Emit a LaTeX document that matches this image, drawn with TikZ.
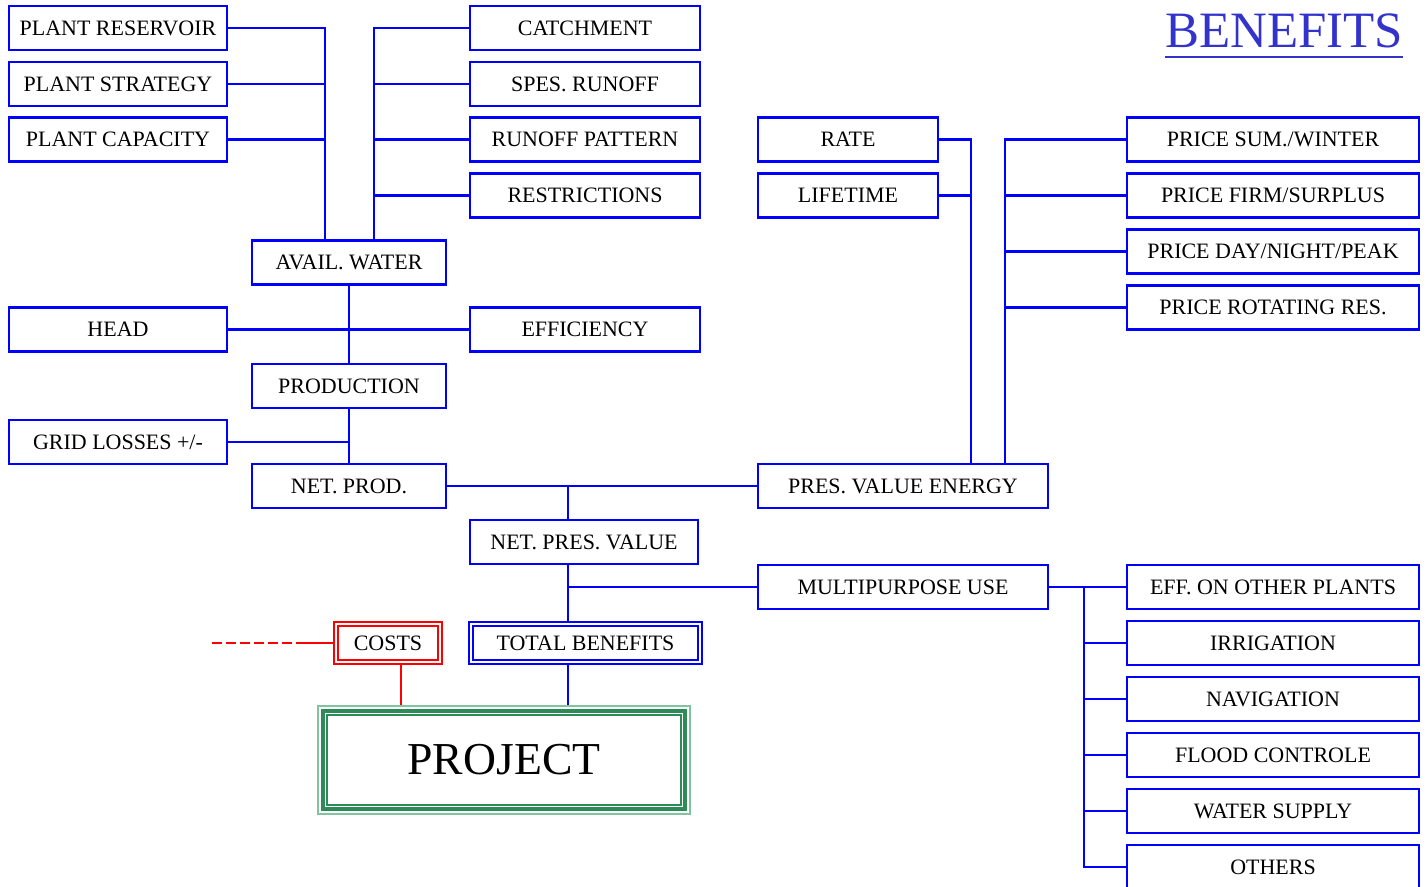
\documentclass[tikz,border=0pt]{standalone}
\usepackage{fontspec}
\setmainfont{Liberation Serif}
\definecolor{boxblue}{RGB}{0,0,255}
\definecolor{titleblue}{RGB}{51,51,204}
\definecolor{projgreen}{RGB}{46,139,87}
\definecolor{projlight}{RGB}{130,195,160}
\tikzset{
	box/.style={draw=boxblue, fill=white, line width=1.2pt, minimum width=#1, minimum height=0.88cm, inner sep=0pt, font=\fontsize{12.5}{14}\selectfont},
	dblbox/.style={draw=#1, fill=white, line width=1.1pt, double=white, double distance=1.2pt, outer sep=1.7pt, minimum height=0.76cm, inner sep=0pt, font=\fontsize{12.5}{14}\selectfont},
	projbox/.style={draw=projgreen, fill=white, line width=0.08cm, minimum width=7.24cm, minimum height=1.96cm, outer sep=0.115cm, font=\fontsize{26}{30}\selectfont},
	link/.style={draw=boxblue, line width=1.2pt},
	costlink/.style={draw=red, line width=1.2pt}
}
\begin{document}
\begin{tikzpicture}
	\useasboundingbox (0,0) rectangle (28.56,-17.72);

	\node[box=4.36cm] (res) at (2.36,-0.56) {PLANT RESERVOIR};
	\node[box=4.36cm] (strat) at (2.36,-1.68) {PLANT STRATEGY};
	\node[box=4.36cm] (cap) at (2.36,-2.79) {PLANT CAPACITY};
	\node[box=4.36cm] (head) at (2.36,-6.59) {HEAD};
	\node[box=4.36cm] (grid) at (2.36,-8.84) {GRID LOSSES +/-};

	\node[box=4.6cm] (catch) at (11.70,-0.56) {CATCHMENT};
	\node[box=4.6cm] (spes) at (11.70,-1.68) {SPES. RUNOFF};
	\node[box=4.6cm] (patt) at (11.70,-2.79) {RUNOFF PATTERN};
	\node[box=4.6cm] (restr) at (11.70,-3.91) {RESTRICTIONS};
	\node[box=4.6cm] (eff) at (11.70,-6.59) {EFFICIENCY};
	\node[box=4.56cm] (npv) at (11.68,-10.84) {NET. PRES. VALUE};

	\node[box=3.88cm] (avail) at (6.98,-5.25) {AVAIL. WATER};
	\node[box=3.88cm] (prod) at (6.98,-7.72) {PRODUCTION};
	\node[box=3.88cm] (net) at (6.98,-9.72) {NET. PROD.};

	\node[box=3.6cm] (rate) at (16.96,-2.79) {RATE};
	\node[box=3.6cm] (life) at (16.96,-3.91) {LIFETIME};
	\node[box=5.8cm] (pve) at (18.06,-9.72) {PRES. VALUE ENERGY};
	\node[box=5.8cm] (mpu) at (18.06,-11.74) {MULTIPURPOSE USE};

	\node[box=5.84cm] (psum) at (25.46,-2.79) {PRICE SUM./WINTER};
	\node[box=5.84cm] (pfirm) at (25.46,-3.91) {PRICE FIRM/SURPLUS};
	\node[box=5.84cm] (pday) at (25.46,-5.03) {PRICE DAY/NIGHT/PEAK};
	\node[box=5.84cm] (prot) at (25.46,-6.15) {PRICE ROTATING RES.};

	\node[box=5.84cm] (uplant) at (25.46,-11.74) {EFF. ON OTHER PLANTS};
	\node[box=5.84cm] (uirr) at (25.46,-12.86) {IRRIGATION};
	\node[box=5.84cm] (unav) at (25.46,-13.98) {NAVIGATION};
	\node[box=5.84cm] (uflood) at (25.46,-15.10) {FLOOD CONTROLE};
	\node[box=5.84cm] (uwater) at (25.46,-16.22) {WATER SUPPLY};
	\node[box=5.84cm] (uoth) at (25.46,-17.34) {OTHERS};

	\node[dblbox=red, minimum width=2.08cm] (costs) at (7.76,-12.86) {COSTS};
	\node[dblbox=boxblue, minimum width=4.58cm] (tb) at (11.71,-12.86) {TOTAL BENEFITS};
	\node[projbox] (proj) at (10.08,-15.20) {PROJECT};
	\draw[projlight, line width=0.04cm] ([shift={(0.015,-0.015)}]proj.north west) rectangle ([shift={(-0.015,0.015)}]proj.south east);
	\draw[projgreen, line width=0.04cm] ([shift={(0.195,-0.195)}]proj.north west) rectangle ([shift={(-0.195,0.195)}]proj.south east);

	\node[font=\fontsize{29}{33}\selectfont, text=titleblue, inner sep=0pt, anchor=base] (title) at (25.68,-0.94) {BENEFITS};
	\draw[titleblue, line width=1.1pt] ([yshift=-0.2cm]title.base west) -- ([yshift=-0.2cm]title.base east);

	\coordinate (busL) at (6.50,0);
	\coordinate (busR) at (7.48,0);
	\coordinate (busN) at (11.36,0);
	\coordinate (busE) at (19.42,0);
	\coordinate (busP) at (20.10,0);
	\coordinate (busM) at (21.68,0);
	\coordinate (costend) at (4.24,0);
	\coordinate (costmid) at (5.94,0);
	\coordinate (costdown) at (8.02,0);

	\draw[link] (res.east) -| (busL |- avail.north);
	\draw[link] (strat.east) -- (strat.east -| busL);
	\draw[link] (cap.east) -- (cap.east -| busL);
	\draw[link] (catch.west) -| (busR |- avail.north);
	\draw[link] (spes.west) -- (spes.west -| busR);
	\draw[link] (patt.west) -- (patt.west -| busR);
	\draw[link] (restr.west) -- (restr.west -| busR);

	\draw[link] (avail.south) -- (prod.north);
	\draw[link] (head.east) -- (eff.west);
	\draw[link] (prod.south) -- (net.north);
	\draw[link] (grid.east) -- (grid.east -| prod.south);

	\draw[link] (net.east) -- (pve.west);
	\draw[link] (busN |- net.east) -- (busN |- npv.north);
	\draw[link] (busN |- npv.south) -- (busN |- tb.north);
	\draw[link] (busN |- mpu.west) -- (mpu.west);
	\draw[link] (busN |- tb.south) -- (busN |- proj.north);

	\draw[link] (rate.east) -| (busE |- pve.north);
	\draw[link] (life.east) -- (life.east -| busE);
	\draw[link] (psum.west) -| (busP |- pve.north);
	\draw[link] (pfirm.west) -- (pfirm.west -| busP);
	\draw[link] (pday.west) -- (pday.west -| busP);
	\draw[link] (prot.west) -- (prot.west -| busP);

	\draw[link] (mpu.east) -- (uplant.west);
	\draw[link] (busM |- mpu.east) |- (uoth.west);
	\draw[link] (uirr.west) -- (uirr.west -| busM);
	\draw[link] (unav.west) -- (unav.west -| busM);
	\draw[link] (uflood.west) -- (uflood.west -| busM);
	\draw[link] (uwater.west) -- (uwater.west -| busM);

	\draw[costlink, dash pattern=on 0.2cm off 0.08cm] (costend |- costs.west) -- (costmid |- costs.west);
	\draw[costlink] (costmid |- costs.west) -- (costs.west);
	\draw[costlink] (costdown |- costs.south) -- (costdown |- proj.north);
\end{tikzpicture}
\end{document}
